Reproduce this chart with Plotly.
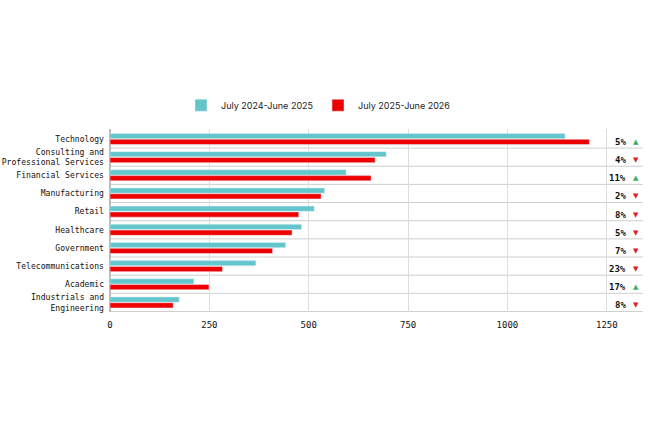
"""Industry bar chart: two fiscal years compared, with year-on-year change."""

import plotly.graph_objects as go

# Data
categories = [
    "Technology",
    "Consulting and<br>Professional Services",
    "Financial Services",
    "Manufacturing",
    "Retail",
    "Healthcare",
    "Government",
    "Telecommunications",
    "Academic",
    "Industrials and<br>Engineering",
]
values_2425 = [1145, 695, 594, 540, 514, 482, 442, 367, 211, 174]
values_2526 = [1206, 667, 657, 531, 475, 458, 409, 283, 249, 159]
change_pct = [5, -4, 11, -2, -8, -5, -7, -23, 17, -8]
tick_vals = [0, 250, 500, 750, 1000, 1250]

CYAN = "#62C6CB"
RED = "#EE0000"
UP = "#3BAF5A"
DOWN = "#E0202A"
MONO = "DejaVu Sans Mono, Liberation Mono, monospace"

fig = go.Figure()

fig.add_trace(
    go.Bar(
        y=categories,
        x=values_2425,
        orientation="h",
        name="July 2024-June 2025",
        marker_color=CYAN,
    )
)
fig.add_trace(
    go.Bar(
        y=categories,
        x=values_2526,
        orientation="h",
        name="July 2025-June 2026",
        marker_color=RED,
    )
)

# Row separators (between categories and at the bottom)
for i in range(1, len(categories) + 1):
    fig.add_shape(
        type="line",
        xref="paper",
        yref="y",
        x0=0,
        x1=1,
        y0=i - 0.5,
        y1=i - 0.5,
        line={"color": "#CFCFCF", "width": 1},
        layer="below",
    )

# Change labels on the right
for cat, pct in zip(categories, change_pct, strict=False):
    fig.add_annotation(
        x=0.972,
        xref="paper",
        y=cat,
        yref="y",
        text=f"<b>{abs(pct)}%</b>",
        showarrow=False,
        xanchor="right",
        yshift=-3,
        font={"family": MONO, "size": 9, "color": "#111111"},
    )
    fig.add_annotation(
        x=0.986,
        xref="paper",
        y=cat,
        yref="y",
        text="▲" if pct > 0 else "▼",
        showarrow=False,
        xanchor="center",
        yshift=-3,
        font={"family": "DejaVu Sans", "size": 7, "color": UP if pct > 0 else DOWN},
    )

fig.update_layout(
    width=650,
    height=433,
    margin={"l": 110, "r": 7, "t": 129, "b": 121, "autoexpand": False},
    paper_bgcolor="white",
    plot_bgcolor="white",
    barmode="group",
    bargap=0.36,
    bargroupgap=0.1,
    showlegend=True,
    legend={
        "orientation": "h",
        "xref": "container",
        "x": 0.49,
        "xanchor": "center",
        "yref": "container",
        "y": 0.757,
        "yanchor": "middle",
        "font": {"family": "Inter, Roboto, sans-serif", "size": 9, "color": "#222222"},
        "itemwidth": 30,
    },
    xaxis={
        "range": [0, 1341],
        "tickvals": tick_vals,
        "showgrid": True,
        "gridcolor": "#DDDDDD",
        "zeroline": True,
        "zerolinecolor": "#BBBBBB",
        "showline": False,
        "ticks": "",
        "automargin": False,
        "ticklabelstandoff": 6,
        "tickfont": {"family": MONO, "size": 9, "color": "#111111"},
    },
    yaxis={
        "autorange": "reversed",
        "showgrid": False,
        "ticks": "",
        "automargin": False,
        "ticklabelstandoff": 5,
        "tickfont": {"family": MONO, "size": 8.1, "color": "#111111"},
    },
)

# drop the default page margin so the figure sits at the window origin
fig.write_html(
    "out.html",
    config={"displayModeBar": False},
    post_script="document.body.style.margin = '0';",
)
